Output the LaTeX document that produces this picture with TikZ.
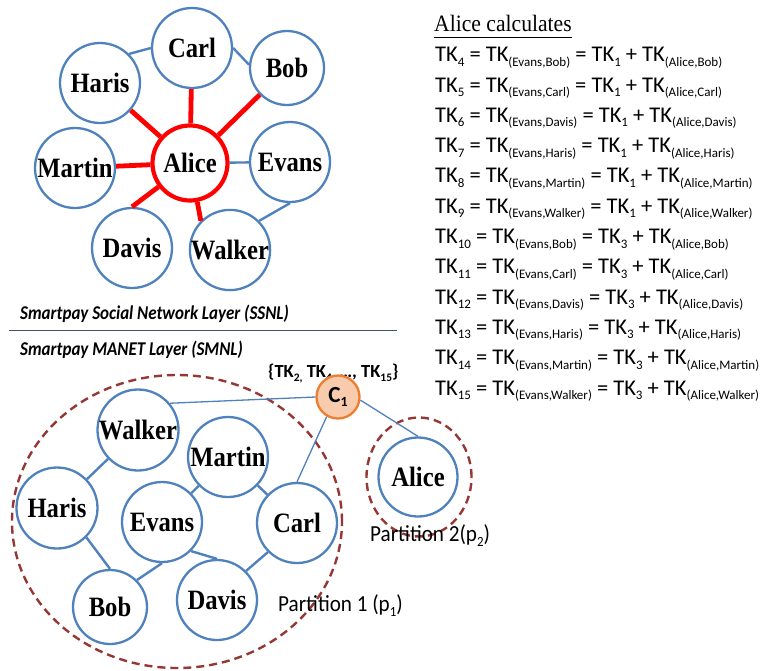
\documentclass[tikz,border=0pt]{standalone}
\usepackage{fontspec}
\usetikzlibrary{shapes.geometric}
\setmainfont{Liberation Serif}
\newfontfamily\namefont[FakeStretch=0.88]{Liberation Serif}
\newfontfamily\headfont[FakeStretch=0.92]{Liberation Serif}
\newfontfamily\tkfont{Carlito}
\newfontfamily\labfont[FakeStretch=0.92]{Carlito}
\newfontfamily\layerfont[FakeStretch=0.87]{Carlito}

% lowered, smaller index text
\newcommand\lowsub[2][13]{\raisebox{-4.5pt}{\fontsize{#1}{#1}\selectfont #2}}

\definecolor{nodeblue}{RGB}{79,129,189}
\definecolor{alicered}{RGB}{255,0,0}
\definecolor{partred}{RGB}{149,55,53}
\definecolor{cfill}{RGB}{248,203,173}
\definecolor{cline}{RGB}{237,125,49}
\definecolor{sepline}{RGB}{68,84,106}

\tikzset{
  person/.style={circle, draw=nodeblue, line width=2.3pt, fill=white,
    inner sep=0pt, minimum size=80pt,
    font=\namefont\bfseries\fontsize{28}{28}\selectfont},
  hub/.style={person, draw=alicered, line width=4.2pt, minimum size=75pt},
  edgeblue/.style={draw=nodeblue, line width=2.4pt},
  redlink/.style={draw=alicered, line width=4.8pt},
  thinlink/.style={draw=nodeblue, line width=1.3pt},
  partline/.style={ellipse, draw=partred, line width=2.4pt,
    dash pattern=on 8pt off 5pt, inner sep=0pt},
  textline/.style={anchor=base west, inner sep=0pt},
  tkline/.style={textline, font=\tkfont\fontsize{22.5}{22.5}\selectfont},
}

\begin{document}
\begin{tikzpicture}[x=1pt, y=-1pt]
\useasboundingbox (0,0) rectangle (767,670);

% ---------- social network layer ----------
\node[person] (carl) at (192,48) {Carl};
\node[person, minimum size=74pt] (bob) at (287,68) {Bob};
\node[person] (haris) at (100,83) {Haris};
\node[hub] (alice) at (190,163) {Alice};
\node[person] (martin) at (75,168) {Martin};
\node[person] (evans) at (290,162) {Evans};
\node[person] (davis) at (132,248) {Davis};
\node[person] (walker) at (230,250) {Walker};

\draw[edgeblue] (haris.45) -- (carl.west);
\draw[edgeblue] (carl.east) -- (bob.175);
\draw[edgeblue] (alice) -- (evans);
\draw[edgeblue] (evans.south) -- (walker.45);

\draw[redlink] (alice) -- (haris);
\draw[redlink] (alice) -- (carl);
\draw[redlink] (alice) -- (bob);
\draw[redlink] (alice) -- (martin);
\draw[redlink] (alice) -- (davis.north);
\draw[redlink] (alice) -- (walker.135);

% ---------- token calculation ----------
\node[textline, font=\headfont\fontsize{23.5}{23.5}\selectfont] (calc) at (434,31.7) {Alice calculates};
\draw[line width=1.3pt] ([yshift=-5.8pt]calc.base west) -- ([yshift=-5.8pt]calc.base east);

\foreach \k/\who/\src in {4/Bob/1, 5/Carl/1, 6/Davis/1, 7/Haris/1, 8/Martin/1, 9/Walker/1,
                          10/Bob/3, 11/Carl/3, 12/Davis/3, 13/Haris/3, 14/Martin/3, 15/Walker/3}{
  \pgfmathsetmacro\yy{61.7+(\k-4)*30.3}
  \node[tkline] (tk\k) at (435,\yy)
    {TK\lowsub{\k} = TK\lowsub{(Evans,\who)} = TK\lowsub{\src} + TK\lowsub{(Alice,\who)}};
}

% ---------- layer captions ----------
\node[textline, font=\layerfont\bfseries\itshape\fontsize{19.5}{19.5}\selectfont] (ssnl) at (20,319) {Smartpay Social Network Layer (SSNL)};
\coordinate (sepL) at (9,330.7);
\coordinate (sepR) at (397,330.7);
\draw[sepline, line width=1.5pt] (sepL) -- (sepR);
\node[textline, font=\layerfont\bfseries\itshape\fontsize{19.5}{19.5}\selectfont] (smnl) at (20,355) {Smartpay MANET Layer (SMNL)};

% ---------- MANET layer ----------
\node[partline, minimum width=330pt, minimum height=293pt] (p1) at (177,521.5) {};
\node[partline, minimum width=105pt, minimum height=119pt] (p2) at (419,477) {};

\node[textline, font=\tkfont\bfseries\fontsize{18.5}{18.5}\selectfont] (tkset) at (268,377.5)
  {\{TK\raisebox{-3.5pt}{\fontsize{11.5}{11.5}\selectfont 2,} TK\raisebox{-3.5pt}{\fontsize{11.5}{11.5}\selectfont 4,} …, TK\raisebox{-3.5pt}{\fontsize{11.5}{11.5}\selectfont 15}\}};
\node[circle, draw=cline, fill=cfill, line width=2.3pt, minimum size=43pt, inner sep=0pt,
      font=\tkfont\bfseries\fontsize{23}{23}\selectfont] (c1) at (338,397) {C\lowsub[14]{1}};

\node[person, minimum size=81pt] (walker2) at (138,430) {Walker};
\node[person] (martin2) at (228,457) {Martin};
\node[person, minimum size=81pt] (haris2) at (57,508) {Haris};
\node[person] (evans2) at (162,522) {Evans};
\node[person] (carl2) at (297,523) {Carl};
\node[person, minimum size=74pt] (bob2) at (110,607) {Bob};
\node[person] (davis2) at (217,600) {Davis};
\node[person, minimum size=79pt] (alice2) at (418,477) {Alice};

\draw[edgeblue] (walker2) -- (haris2);
\draw[edgeblue] (haris2.-45) -- (bob2.north);
\draw[edgeblue] (bob2.45) -- (evans2.south);
\draw[edgeblue] (evans2) -- (martin2);
\draw[edgeblue] (martin2) -- (carl2);
\draw[edgeblue] (evans2.-45) -- (davis2.north);
\draw[edgeblue] (davis2.45) -- (carl2.225);
\draw[thinlink] (walker2.40) -- (c1.west);
\draw[thinlink] (carl2.north) -- (c1.240);
\draw[thinlink] (c1.-8) -- (alice2.north);

\node[textline, font=\labfont\fontsize{23}{23}\selectfont] (p1lab) at (278,611.7) {Partition 1 (p\lowsub[14]{1})};
\node[textline, font=\labfont\fontsize{23}{23}\selectfont] (p2lab) at (370,541.5) {Partition 2(p\lowsub[14]{2})};
\end{tikzpicture}
\end{document}
